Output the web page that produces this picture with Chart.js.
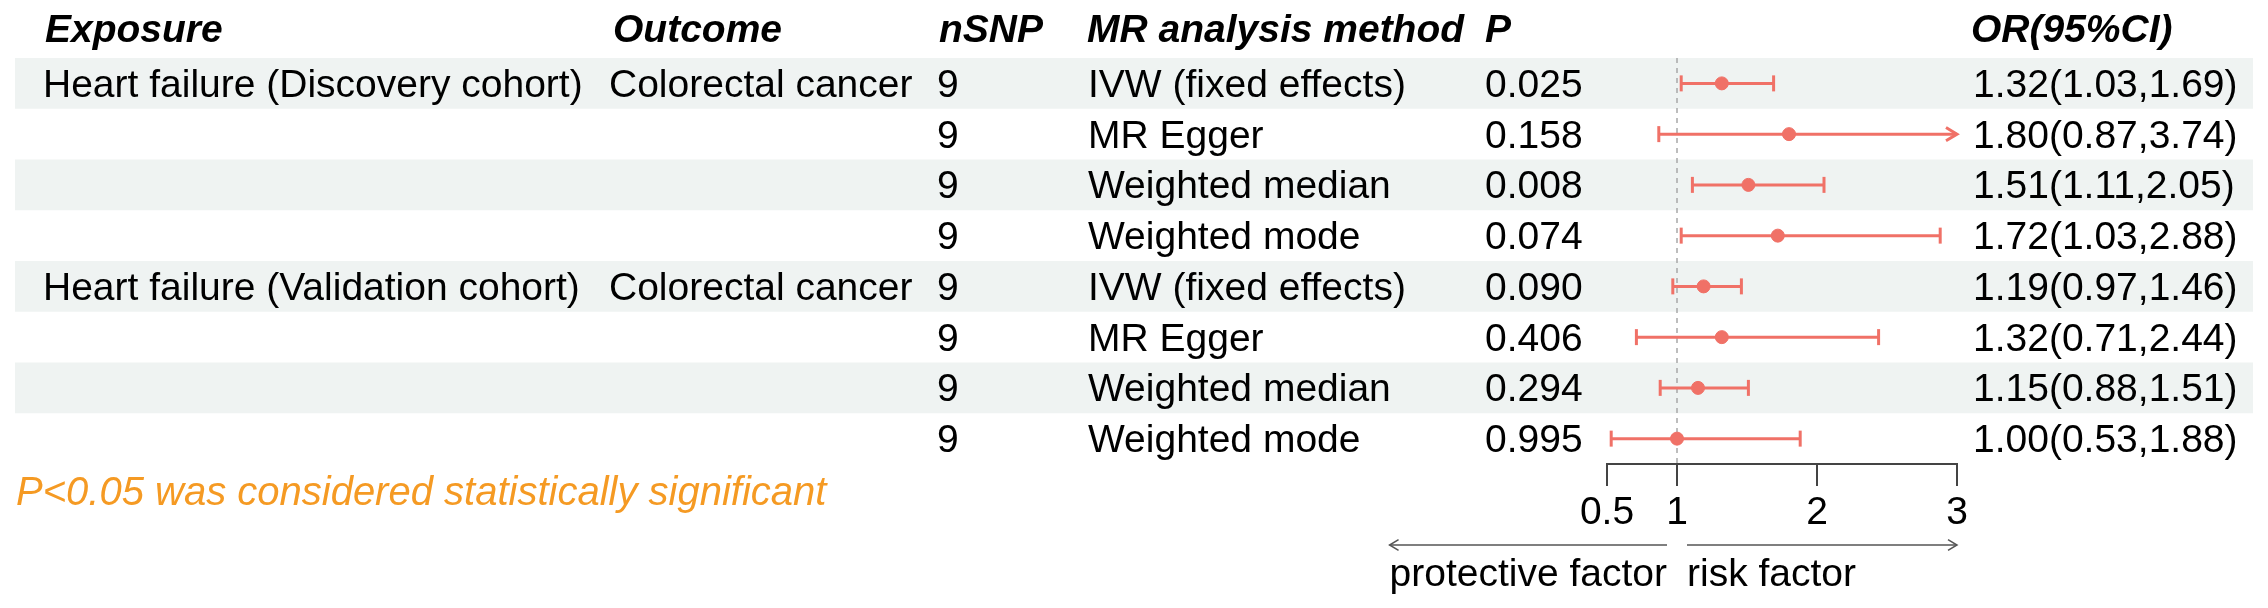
<!DOCTYPE html>
<html>
<head>
<meta charset="utf-8">
<script src="https://cdn.jsdelivr.net/npm/chart.js@4"></script>
<style>
  body { margin: 0; background: #ffffff; }
  #forest { display: block; }
</style>
</head>
<body>
<canvas id="forest" width="2268" height="608"></canvas>
<script>
const exposures = ["Heart failure (Discovery cohort)", "", "", "", "Heart failure (Validation cohort)", "", "", ""];
const outcomes = ["Colorectal cancer", "", "", "", "Colorectal cancer", "", "", ""];
const nSNP = [9, 9, 9, 9, 9, 9, 9, 9];
const methods = ["IVW (fixed effects)", "MR Egger", "Weighted median", "Weighted mode",
                 "IVW (fixed effects)", "MR Egger", "Weighted median", "Weighted mode"];
const pValues = ["0.025", "0.158", "0.008", "0.074", "0.090", "0.406", "0.294", "0.995"];
const orValues = [1.32, 1.80, 1.51, 1.72, 1.19, 1.32, 1.15, 1.00];
const lowerCI = [1.03, 0.87, 1.11, 1.03, 0.97, 0.71, 0.88, 0.53];
const upperCI = [1.69, 3.74, 2.05, 2.88, 1.46, 2.44, 1.51, 1.88];
const xTicks = [0.5, 1, 2, 3];

const FONT = "'Liberation Sans', Arial, sans-serif";
const ciColor = "#F07167";

// OR(95%CI) text column
const orLabels = orValues.map((v, i) =>
    v.toFixed(2) + "(" + lowerCI[i].toFixed(2) + "," + upperCI[i].toFixed(2) + ")");

// table columns: [x for header, x for cells, header, values]
const columns = [
    [45, 43, "Exposure", exposures],
    [613, 609, "Outcome", outcomes],
    [939, 937, "nSNP", nSNP],
    [1087, 1088, "MR analysis method", methods],
    [1485, 1485, "P", pValues],
    [1971, 1973, "OR(95%CI)", orLabels]
];

function arrowHead(ctx, x, y, dir, size) {
    ctx.beginPath();
    ctx.moveTo(x - dir * size, y - size * 0.6);
    ctx.lineTo(x, y);
    ctx.lineTo(x - dir * size, y + size * 0.6);
    ctx.stroke();
}

const forestPlugin = {
    id: "forest",
    beforeDatasetsDraw(chart) {
        const ctx = chart.ctx;
        const xs = chart.scales.x, ys = chart.scales.y;
        const area = chart.chartArea;
        ctx.save();

        // reference line at OR = 1
        ctx.strokeStyle = "#a8a8a8";
        ctx.lineWidth = 1.5;
        ctx.setLineDash([5, 5]);
        ctx.beginPath();
        ctx.moveTo(xs.getPixelForValue(1), area.top);
        ctx.lineTo(xs.getPixelForValue(1), area.bottom);
        ctx.stroke();
        ctx.setLineDash([]);

        // confidence intervals
        ctx.strokeStyle = ciColor;
        ctx.lineWidth = 3;
        orValues.forEach((v, i) => {
            const y = ys.getPixelForValue(i + 1);
            const lo = Math.max(lowerCI[i], xs.min);
            const hi = Math.min(upperCI[i], xs.max);
            const x1 = xs.getPixelForValue(lo), x2 = xs.getPixelForValue(hi);
            ctx.beginPath();
            ctx.moveTo(x1, y);
            ctx.lineTo(x2, y);
            ctx.stroke();
            if (lowerCI[i] >= xs.min) {
                ctx.beginPath(); ctx.moveTo(x1, y - 8); ctx.lineTo(x1, y + 8); ctx.stroke();
            } else {
                arrowHead(ctx, x1, y, -1, 11);
            }
            if (upperCI[i] <= xs.max) {
                ctx.beginPath(); ctx.moveTo(x2, y - 8); ctx.lineTo(x2, y + 8); ctx.stroke();
            } else {
                arrowHead(ctx, x2, y, 1, 11);
            }
        });
        ctx.restore();
    },
    beforeDraw(chart) {
        const ctx = chart.ctx;
        const ys = chart.scales.y;
        ctx.save();
        ctx.fillStyle = "#ffffff";
        ctx.fillRect(0, 0, chart.width, chart.height);
        // striped rows
        ctx.fillStyle = "#eff3f2";
        for (let r = 1; r <= orValues.length; r += 2) {
            const top = ys.getPixelForValue(r - 0.5);
            const bottom = ys.getPixelForValue(r + 0.5);
            ctx.fillRect(15, top, 2253 - 15, bottom - top);
        }
        ctx.restore();
    },
    afterDraw(chart) {
        const ctx = chart.ctx;
        const xs = chart.scales.x, ys = chart.scales.y;
        ctx.save();
        ctx.fillStyle = "#000000";
        ctx.textAlign = "left";
        ctx.textBaseline = "alphabetic";

        // headers
        ctx.font = "italic bold 39px " + FONT;
        columns.forEach(c => ctx.fillText(c[2], c[0], 42));

        // cells
        ctx.font = "39px " + FONT;
        columns.forEach(c => {
            c[3].forEach((t, i) => {
                if (t === "") return;
                ctx.fillText(String(t), c[1], ys.getPixelForValue(i + 1) + 13.5);
            });
        });

        // footnote
        ctx.font = "italic 40px " + FONT;
        ctx.fillStyle = "#F59A23";
        ctx.fillText("P<0.05 was considered statistically significant", 16, 505);

        // direction arrows under the axis
        const x1 = xs.getPixelForValue(1);
        ctx.font = "39px " + FONT;
        ctx.fillStyle = "#000000";
        const leftLab = "protective factor", rightLab = "risk factor";
        const lw = ctx.measureText(leftLab).width;
        ctx.textAlign = "right";
        ctx.fillText(leftLab, x1 - 10, 586);
        ctx.textAlign = "left";
        ctx.fillText(rightLab, x1 + 10, 586);

        ctx.strokeStyle = "#555555";
        ctx.lineWidth = 1.5;
        ctx.beginPath();
        ctx.moveTo(x1 - 10, 545);
        ctx.lineTo(x1 - 10 - lw, 545);
        ctx.stroke();
        arrowHead(ctx, x1 - 10 - lw, 545, -1, 9);
        const xr = xs.getPixelForValue(xs.max);
        ctx.beginPath();
        ctx.moveTo(x1 + 10, 545);
        ctx.lineTo(xr, 545);
        ctx.stroke();
        arrowHead(ctx, xr, 545, 1, 9);
        ctx.restore();
    }
};

const ctx = document.getElementById("forest").getContext("2d");
new Chart(ctx, {
    type: "scatter",
    data: {
        datasets: [{
            label: "OR",
            data: orValues.map((v, i) => ({ x: v, y: i + 1 })),
            backgroundColor: ciColor,
            borderColor: ciColor,
            pointRadius: 6.5,
            pointHoverRadius: 6.5
        }]
    },
    options: {
        responsive: false,
        animation: false,
        devicePixelRatio: 1,
        layout: { padding: { left: 1607, right: 311, top: 58, bottom: 0 } },
        scales: {
            x: {
                type: "linear",
                min: 0.5,
                max: 3,
                afterBuildTicks: (scale) => { scale.ticks = xTicks.map(v => ({ value: v })); },
                afterFit: (scale) => { scale.height = 144; },
                border: { display: true, color: "#444444", width: 2 },
                grid: { drawOnChartArea: false, drawTicks: true, tickLength: 22, color: "#444444", lineWidth: 2 },
                ticks: {
                    color: "#000000",
                    font: { family: FONT, size: 39 },
                    padding: 4,
                    maxRotation: 0,
                    autoSkip: false,
                    callback: (v) => String(v)
                }
            },
            y: {
                type: "linear",
                min: 0.5,
                max: 8.5,
                reverse: true,
                display: false
            }
        },
        plugins: {
            legend: { display: false },
            tooltip: { enabled: false }
        }
    },
    plugins: [forestPlugin]
});
</script>
</body>
</html>
